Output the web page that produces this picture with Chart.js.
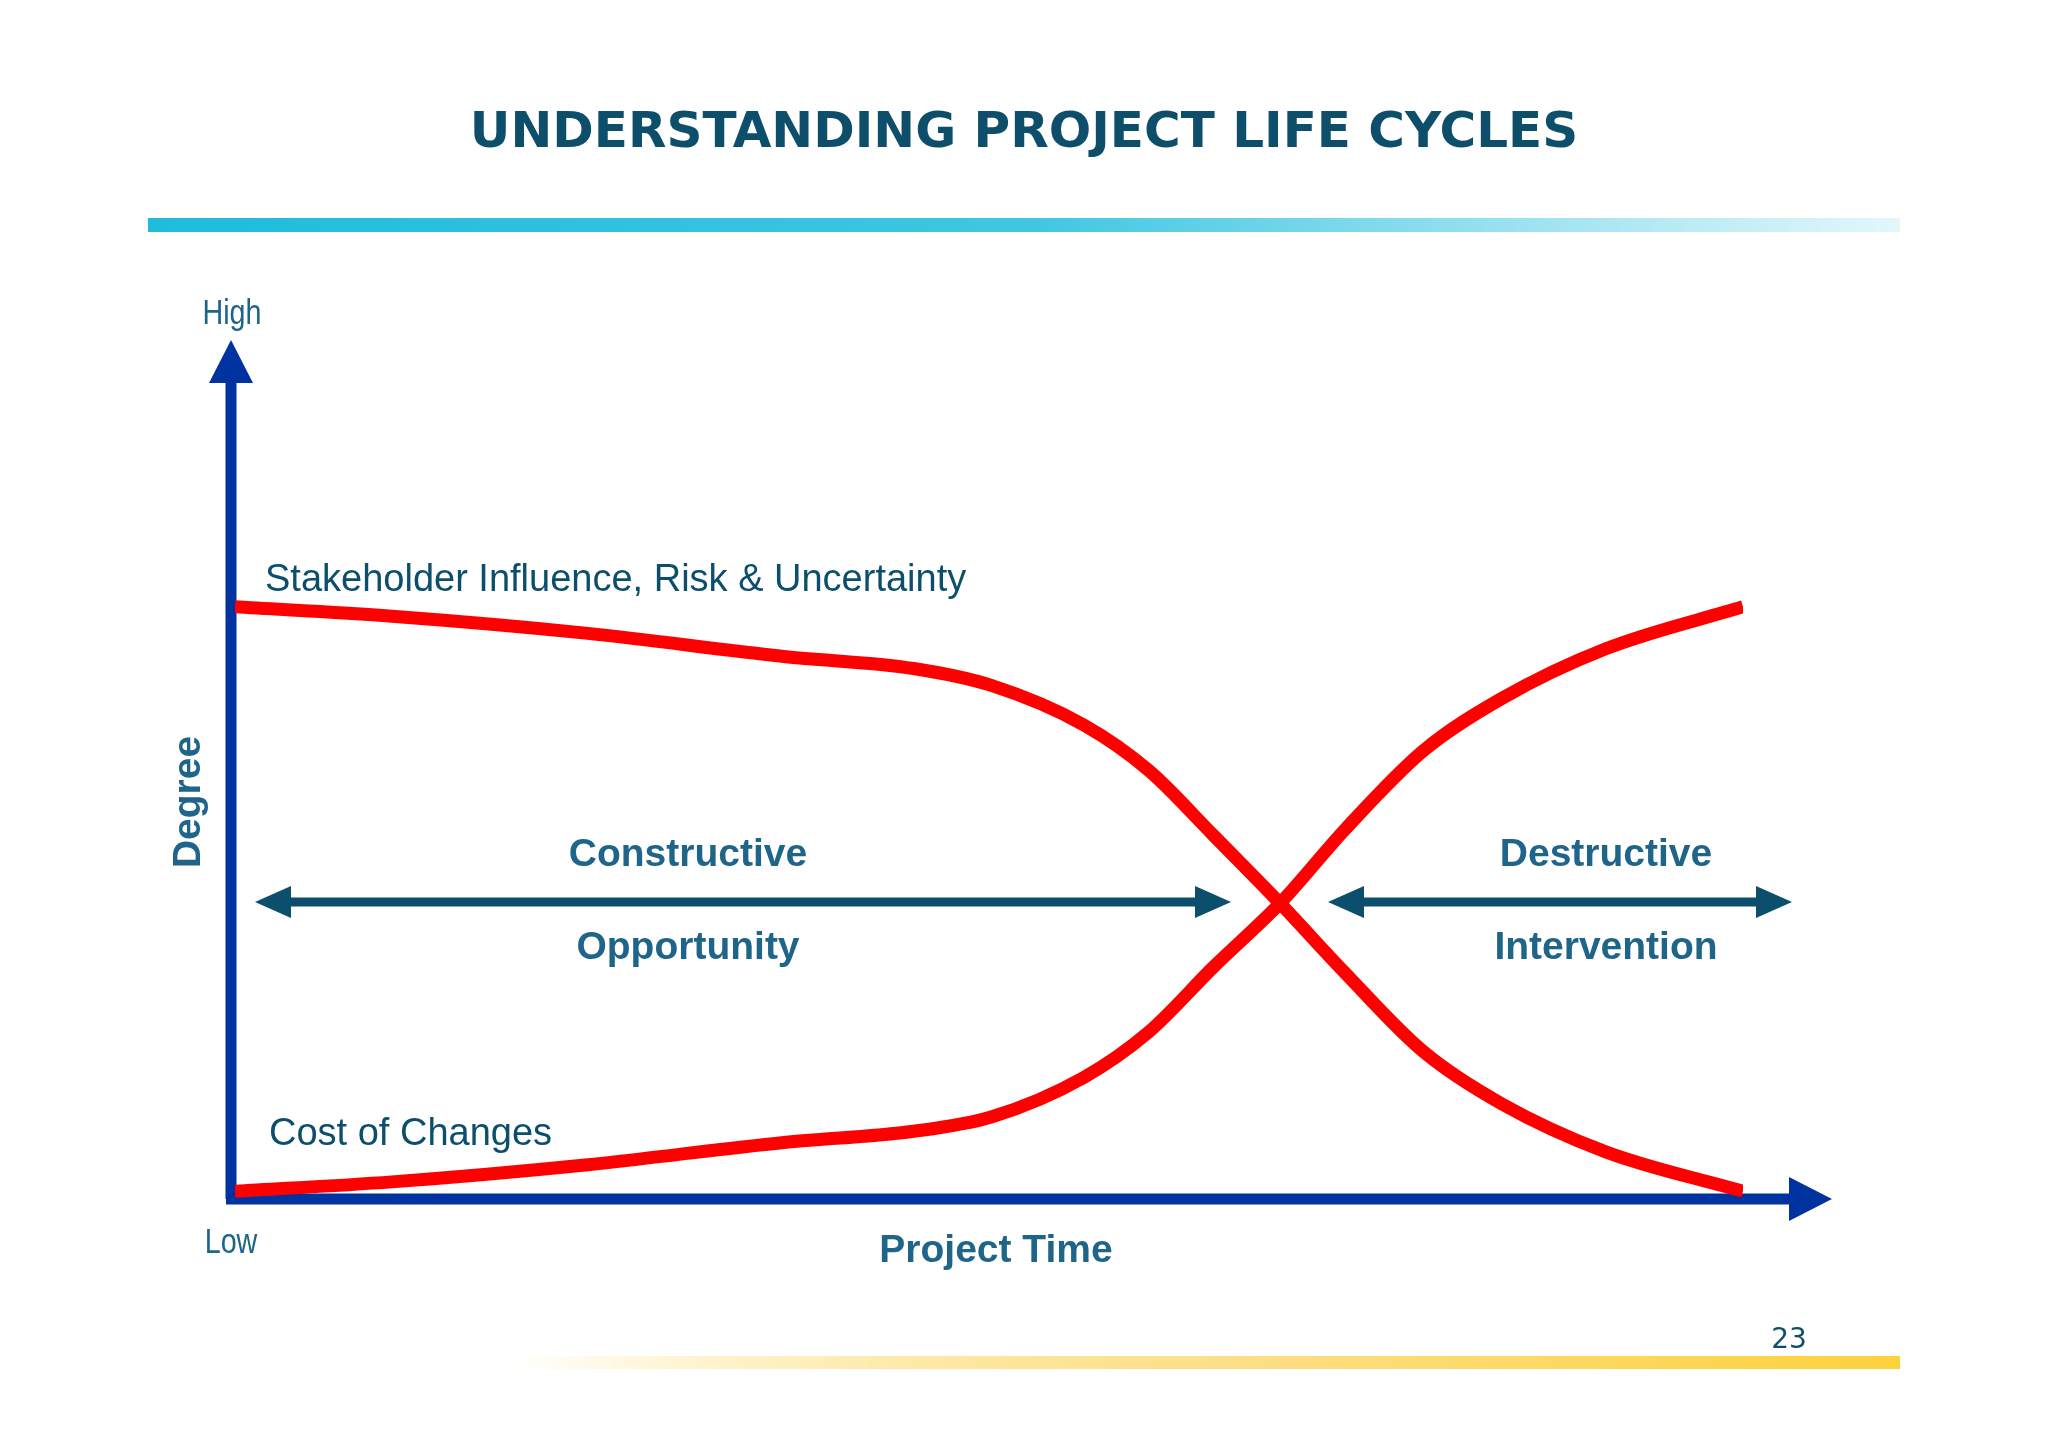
<!DOCTYPE html>
<html>
<head>
<meta charset="utf-8">
<script src="https://cdn.jsdelivr.net/npm/chart.js@4/dist/chart.umd.min.js"></script>
<style>
  html, body { margin: 0; padding: 0; background: #fff; }
  #wrap { width: 2048px; height: 1447px; }
</style>
</head>
<body>
<div id="wrap"><canvas id="c" width="2048" height="1447"></canvas></div>
<script>
// project time 0..100, degree 0..100
var time = [0, 10.4, 23.4, 36.4, 45, 50.2, 56.3, 60.6, 64.9, 69.3, 73.6, 78.8, 84, 90.9, 100];
var influence = [69.1, 68, 66, 63.3, 61.9, 59.9, 55.3, 50, 42.4, 34.5, 26.4, 17.2, 11.1, 5.5, 0.9];
var costOfChanges = [0.9, 2, 4, 6.6, 7.9, 9.6, 14.2, 19.5, 27.1, 34.5, 43.1, 52.3, 58.4, 64.2, 69.1];

var pts = function (ys) { return time.map(function (t, i) { return { x: t, y: ys[i] }; }); };

var axisBlue = '#0033a0', teal = '#0b4f6c', label = '#1f6589';

var arrowHead = function (ctx, x, y, dir, len, half) {
  ctx.beginPath();
  if (dir === 'up') { ctx.moveTo(x, y); ctx.lineTo(x - half, y + len); ctx.lineTo(x + half, y + len); }
  if (dir === 'right') { ctx.moveTo(x, y); ctx.lineTo(x - len, y - half); ctx.lineTo(x - len, y + half); }
  if (dir === 'left') { ctx.moveTo(x, y); ctx.lineTo(x + len, y - half); ctx.lineTo(x + len, y + half); }
  ctx.closePath(); ctx.fill();
};

var text = function (ctx, s, x, y, font, color, align) {
  ctx.font = font; ctx.fillStyle = color; ctx.textAlign = align || 'center'; ctx.textBaseline = 'middle';
  ctx.fillText(s, x, y);
};

var narrow = function (ctx, s, x, y) {
  ctx.save(); ctx.translate(x, y); ctx.scale(0.82, 1);
  text(ctx, s, 0, 0, '35px "Liberation Sans"', '#1f6589');
  ctx.restore();
};

var decor = {
  id: 'decor',
  beforeDatasetsDraw: function (chart) {
    var ctx = chart.ctx;
    ctx.save();
    text(ctx, 'UNDERSTANDING PROJECT LIFE CYCLES', 1024, 134, 'bold 50px "DejaVu Sans"', '#0d4f6a');
    var g = ctx.createLinearGradient(148, 0, 1900, 0);
    g.addColorStop(0, '#1fbcdc'); g.addColorStop(0.5, '#3fc6e2'); g.addColorStop(1, '#e3f7fb');
    ctx.fillStyle = g; ctx.fillRect(148, 218, 1752, 14);
    var y = ctx.createLinearGradient(509, 0, 1900, 0);
    y.addColorStop(0, 'rgba(252,210,60,0)'); y.addColorStop(0.5, '#fce08a'); y.addColorStop(1, '#fcd23c');
    ctx.fillStyle = y; ctx.fillRect(509, 1356, 1391, 13);
    text(ctx, '23', 1789, 1341, '28px "DejaVu Sans"', '#0b4f6c');

    // axes
    ctx.strokeStyle = axisBlue; ctx.fillStyle = axisBlue; ctx.lineWidth = 11;
    ctx.beginPath(); ctx.moveTo(231, 1199); ctx.lineTo(231, 375); ctx.stroke();
    arrowHead(ctx, 231, 340, 'up', 43, 22);
    ctx.beginPath(); ctx.moveTo(226, 1199); ctx.lineTo(1795, 1199); ctx.stroke();
    arrowHead(ctx, 1832, 1199, 'right', 43, 22);

    // double arrows
    ctx.strokeStyle = teal; ctx.fillStyle = teal; ctx.lineWidth = 9;
    ctx.beginPath(); ctx.moveTo(285, 902); ctx.lineTo(1200, 902); ctx.stroke();
    arrowHead(ctx, 255, 902, 'left', 36, 16); arrowHead(ctx, 1231, 902, 'right', 36, 16);
    ctx.beginPath(); ctx.moveTo(1358, 902); ctx.lineTo(1762, 902); ctx.stroke();
    arrowHead(ctx, 1328, 902, 'left', 36, 16); arrowHead(ctx, 1792, 902, 'right', 36, 16);

    var b = 'bold 39px "Liberation Sans"';
    text(ctx, 'Constructive', 688, 855, b, label);
    text(ctx, 'Opportunity', 688, 948, b, label);
    text(ctx, 'Destructive', 1606, 855, b, label);
    text(ctx, 'Intervention', 1606, 948, b, label);
    text(ctx, 'Project Time', 996, 1251, b, label);
    ctx.save(); ctx.translate(189, 802); ctx.rotate(-Math.PI / 2);
    text(ctx, 'Degree', 0, 0, b, label); ctx.restore();

    var n = '38px "Liberation Sans"';
    text(ctx, 'Stakeholder Influence, Risk & Uncertainty', 265, 581, n, teal, 'left');
    text(ctx, 'Cost of Changes', 269, 1135, n, teal, 'left');
    narrow(ctx, 'High', 232, 314);
    narrow(ctx, 'Low', 231, 1243);
    ctx.restore();
  }
};

var lineSet = function (name, ys) {
  return { label: name, data: pts(ys), borderColor: '#ff0000', borderWidth: 13,
    pointRadius: 0, fill: false, cubicInterpolationMode: 'monotone', borderCapStyle: 'butt' };
};

new Chart(document.getElementById('c'), {
  type: 'line',
  data: { datasets: [lineSet('Stakeholder Influence, Risk & Uncertainty', influence), lineSet('Cost of Changes', costOfChanges)] },
  options: {
    responsive: false, animation: false, maintainAspectRatio: false,
    layout: { padding: { left: 235, right: 305, top: 342, bottom: 248 } },
    plugins: { legend: { display: false }, tooltip: { enabled: false } },
    scales: {
      x: { type: 'linear', min: 0, max: 100, display: false },
      y: { min: 0, max: 100, display: false }
    }
  },
  plugins: [decor]
});
</script>
</body>
</html>
